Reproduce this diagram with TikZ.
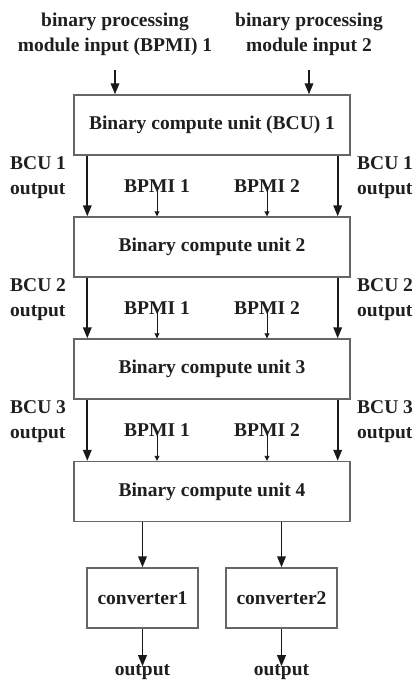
\documentclass[tikz,border=0pt]{standalone}
\usepackage{fontspec}
\setmainfont{Liberation Serif}
\usetikzlibrary{arrows.meta}
\begin{document}
\begin{tikzpicture}[x=1pt,y=-1pt,
  every node/.style={font=\fontsize{19.5}{25}\selectfont\bfseries, text=black!88},
  unit/.style={draw=black!60, line width=1.4pt, minimum width=276pt, minimum height=60pt, inner sep=0pt},
  conv/.style={draw=black!60, line width=1.4pt, minimum width=111pt, minimum height=60pt, inner sep=0pt},
  lbl/.style={inner sep=0pt, align=left},
  main/.style={line width=1.9pt, draw=black!90, -{Triangle[length=11pt,width=8.5pt]}},
  tiny/.style={line width=0.9pt, draw=black!90, -{Triangle[length=5pt,width=5pt]}}
]
\useasboundingbox (0,0) rectangle (414,683);

% compute units stacked top to bottom
\node[unit] (u1) at (212,125) {Binary compute unit (BCU) 1};
\node[unit] (u2) at (212,247) {Binary compute unit 2};
\node[unit] (u3) at (212,369) {Binary compute unit 3};
\node[unit] (u4) at (212,491.5) {Binary compute unit 4};

% converters
\node[conv] (c1) at (142.5,598) {converter1};
\node[conv] (c2) at (281.5,598) {converter2};

% module inputs
\node[inner sep=0pt, align=center] (in1) at (115,34) {binary processing\\module input (BPMI) 1};
\node[inner sep=0pt, align=center] (in2) at (309,34) {binary processing\\module input 2};
\coordinate (in1e) at (115,70);
\coordinate (in2e) at (309,70);
\draw[main] (in1e) -- (in1e |- u1.north);
\draw[main] (in2e) -- (in2e |- u1.north);

% chained outputs between units, with labels on both sides
\foreach \a/\b/\k/\y in {u1/u2/1/186, u2/u3/2/308, u3/u4/3/430}{
  \draw[main] ([xshift=14pt]\a.south west) -- ([xshift=14pt]\b.north west);
  \draw[main] ([xshift=-13pt]\a.south east) -- ([xshift=-13pt]\b.north east);
  \node[lbl, anchor=west] (l\k) at (10,\y-8) {BCU \k\\output};
  \node[lbl, anchor=west] (r\k) at (357,\y-8) {BCU \k\\output};
  \node[inner sep=0pt] (p\k a) at (157,\y) {BPMI 1};
  \node[inner sep=0pt] (p\k b) at (267,\y) {BPMI 2};
  \draw[tiny] ([yshift=6pt]p\k a.south) -- (p\k a.south |- \b.north);
  \draw[tiny] ([yshift=6pt]p\k b.south) -- (p\k b.south |- \b.north);
}

% unit 4 to converters
\draw[main] (u4.south -| c1.north) -- (c1.north);
\draw[main] (u4.south -| c2.north) -- (c2.north);

% final outputs
\node[inner sep=0pt] (o1) at (142.5,672) {output};
\node[inner sep=0pt] (o2) at (281.5,672) {output};
\draw[main] (c1.south) -- ([yshift=-2pt]o1.north);
\draw[main] (c2.south) -- ([yshift=-2pt]o2.north);
\end{tikzpicture}
\end{document}
